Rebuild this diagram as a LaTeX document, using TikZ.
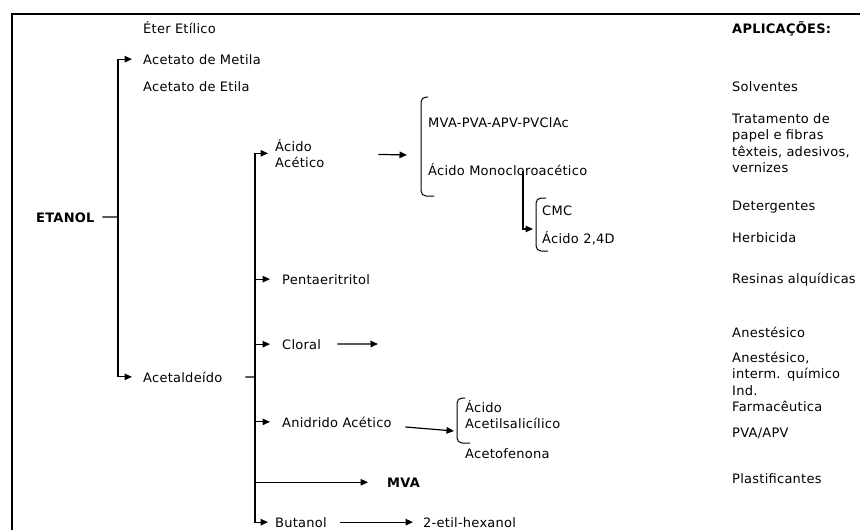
\documentclass[tikz,border=0pt]{standalone}
\usepackage{fontspec}
\setmainfont[LetterSpace=2]{DejaVu Sans}
\usepackage{tikz}
\usetikzlibrary{positioning,arrows.meta}
\tikzstyle{item} = [anchor=base west, inner sep=0pt, align=left, font=\fontsize{13}{16.5}\selectfont]
\tikzstyle{head} = [item, font=\bfseries\fontsize{13}{16.5}\selectfont]
\tikzstyle{link} = [line width=1.2pt]
\tikzstyle{arrow} = [link, -{Triangle[length=7.5pt,width=6.5pt]}]
\tikzstyle{bracket} = [line width=1pt, rounded corners=5pt]

\begin{document}
\begin{tikzpicture}[x=1pt, y=-1pt]
    \useasboundingbox (0,0) rectangle (860,530);
    \draw[line width=1.5pt] (12,530) -- (12,14) -- (860,14);

    % etanol
    \node[head, text width=66pt] (etanol) at (36,222) {ETANOL};
    \node[item] (eter) at (143,34) {Éter Etílico};
    \node[item] (metila) at (143,64) {Acetato de Metila};
    \node[item] (etila) at (143,91) {Acetato de Etila};
    \node[item, text width=102pt] (acetaldeido) at (143,382) {Acetaldeído};
    \coordinate (trunkA) at (118,217);

    \draw[link] (etanol) -- (trunkA);
    \draw[arrow, shorten >=11pt] (trunkA) |- (metila);
    \draw[arrow, shorten >=11pt] (trunkA) |- (acetaldeido);

    % acetaldeido
    \node[item, text width=103pt] (acetico) at (275,151) {Ácido\\Acético};
    \node[item] (penta) at (282,284) {Pentaeritritol};
    \node[item, text width=55pt] (cloral) at (282,349) {Cloral};
    \node[item, text width=123pt] (anidrido) at (282,427) {Anidrido Acético};
    \node[head] (mva) at (387,487) {MVA};
    \node[item, text width=65pt] (butanol) at (275,527) {Butanol};
    \node[item] (hexanol) at (423,527) {2-etil-hexanol};
    \coordinate (trunkB) at (255,377);

    \draw[link] (acetaldeido) -- (trunkB);
    \draw[arrow, shorten >=7pt] (trunkB) |- (acetico);
    \draw[arrow, shorten >=12pt] (trunkB) |- (penta);
    \draw[arrow, shorten >=12pt] (trunkB) |- (cloral);
    \draw[arrow, shorten >=12pt] (trunkB) |- (anidrido);
    \draw[arrow, shorten >=19pt] (trunkB) |- (mva);
    \draw[arrow, shorten >=7pt] (trunkB) |- (butanol);
    \draw[arrow, shorten >=10pt] (butanol) -- (hexanol);

    % acido acetico
    \node[item] (polimeros) at (428,127) {MVA-PVA-APV-PVClAc};
    \node[item] (mono) at (428,175) {Ácido Monocloroacético};
    \node[item] (cmc) at (542,215) {CMC};
    \node[item] (dois) at (542,243) {Ácido 2,4D};
    \coordinate (brA) at (407,155);
    \coordinate (brB) at (533,229);
    \draw[bracket] (428,97) -- (421,97) -- (421,196) -- (434,196);
    \draw[bracket] (546,198) -- (536,198) -- (536,251) -- (548,251);
    \draw[arrow] (acetico) -- (brA);
    \draw[arrow] ([xshift=95pt, yshift=4pt]mono.south west) |- (brB);

    % cloral, anidrido
    \coordinate (clEnd) at (378,344);
    \draw[arrow] (cloral) -- (clEnd);
    \node[item, text width=120pt] (aas) at (465,412) {Ácido\\Acetilsalicílico};
    \node[item] (acetofenona) at (465,458) {Acetofenona};
    \coordinate (brC) at (454,431);
    \draw[bracket] (465,398) -- (457,398) -- (457,443) -- (470,443);
    \draw[arrow] (anidrido) -- (brC);

    % aplicacoes
    \node[head] (aplic) at (732,34) {APLICAÇÕES:};
    \node[item] (solv) at (732,91) {Solventes};
    \node[item, text width=128pt] (trat) at (732,123) {Tratamento de\\papel e fibras\\têxteis, adesivos,\\vernizes};
    \node[item] (deterg) at (732,210) {Detergentes};
    \node[item] (herb) at (732,242) {Herbicida};
    \node[item] (resinas) at (732,283) {Resinas alquídicas};
    \node[item] (anest) at (732,337) {Anestésico};
    \node[item, text width=128pt] (anest2) at (732,362) {Anestésico,\\interm. químico};
    \node[item, text width=128pt] (farma) at (732,395) {Ind.\\Farmacêutica};
    \node[item] (pvaapv) at (732,437) {PVA/APV};
    \node[item] (plast) at (732,483) {Plastificantes};
\end{tikzpicture}
\end{document}
